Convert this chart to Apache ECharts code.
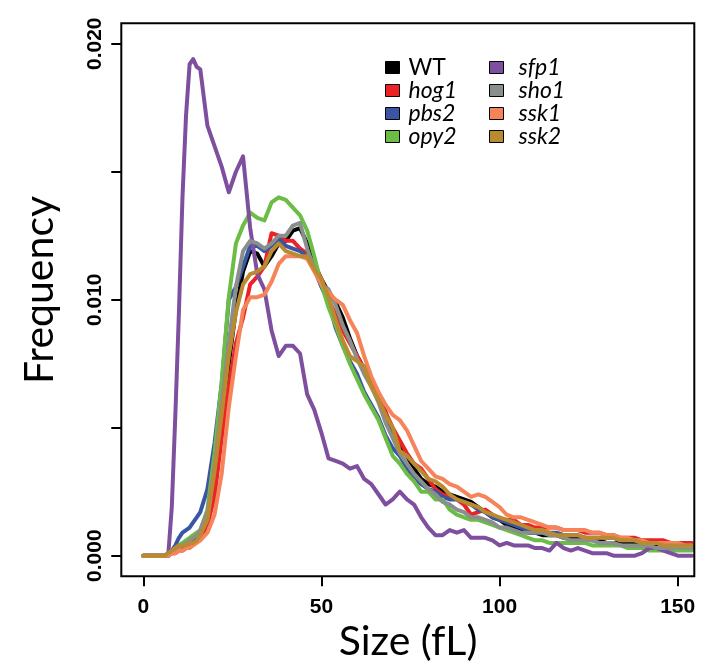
<!DOCTYPE html>
<html>
<head>
<meta charset="utf-8">
<script src="https://cdn.jsdelivr.net/npm/echarts@6/dist/echarts.min.js"></script>
<style>html,body{margin:0;padding:0;background:#fff}#c{width:704px;height:672px}</style>
</head>
<body>
<div id="c"></div>
<script>
// Size (fL) sample positions shared by all series
const sizes = [0,2,4,6,7,8,9,10,11,12,13,14,15,16,18,
  20,22,24,26,28,30,32,34,36,38,40,42,44,46,48,50,52,54,56,58,60,62,64,66,68,70,72,74,76,78,80,
  82,84,86,88,90,92,94,96,98,100,102,104,106,108,110,112,114,116,118,120,122,124,126,128,130,
  132,134,136,138,140,142,144,146,148,150,152,154];

const WT = [0,0,0,0,0,0.0001,0.0002,0.0003,0.0003,0.0004,0.0005,0.0006,0.0007,0.0009,0.0015,
  0.0030,0.0055,0.0075,0.0096,0.0111,0.0119,0.0118,0.0113,0.0117,0.0122,0.0123,0.0127,0.0128,0.0122,0.0114,0.0108,
  0.0103,0.0099,0.0093,0.0085,0.0078,0.0073,0.0068,0.0063,0.0056,0.0048,0.0043,0.0039,0.0034,0.0030,0.0028,
  0.0027,0.0025,0.0024,0.0023,0.0022,0.0021,0.0019,0.0017,0.0015,0.0014,0.0012,0.0011,0.0010,0.0009,0.0009,
  0.0008,0.0008,0.0008,0.0007,0.0007,0.0007,0.0007,0.0006,0.0006,0.0005,0.0005,0.0005,0.0005,0.0005,0.0004,
  0.0004,0.0004,0.0004,0.0004,0.0003,0.0003,0.0003];

const hog1 = [0,0,0,0,0,0.0001,0.0001,0.0002,0.0002,0.0003,0.0004,0.0005,0.0006,0.0007,0.0012,
  0.0023,0.0046,0.0066,0.0083,0.0093,0.0106,0.0109,0.0113,0.0126,0.0125,0.0123,0.0123,0.0120,0.0118,0.0114,0.0108,
  0.0100,0.0094,0.0088,0.0083,0.0078,0.0073,0.0068,0.0063,0.0056,0.0050,0.0045,0.0040,0.0036,0.0034,0.0030,
  0.0026,0.0024,0.0023,0.0022,0.0020,0.0016,0.0017,0.0018,0.0016,0.0014,0.0014,0.0014,0.0012,0.0012,0.0011,
  0.0011,0.0011,0.0011,0.0010,0.0010,0.0010,0.0009,0.0009,0.0009,0.0008,0.0008,0.0007,0.0007,0.0007,0.0006,
  0.0006,0.0006,0.0006,0.0005,0.0005,0.0005,0.0005];

const pbs2 = [0,0,0,0,0.0001,0.0002,0.0004,0.0007,0.0009,0.0010,0.0011,0.0013,0.0015,0.0017,0.0026,
  0.0044,0.0067,0.0100,0.0105,0.0113,0.0121,0.0121,0.0119,0.0121,0.0124,0.0121,0.0120,0.0119,0.0117,0.0112,0.0105,
  0.0099,0.0089,0.0082,0.0076,0.0071,0.0064,0.0059,0.0054,0.0047,0.0042,0.0039,0.0034,0.0030,0.0028,0.0026,
  0.0025,0.0023,0.0022,0.0022,0.0021,0.0020,0.0018,0.0017,0.0015,0.0014,0.0013,0.0012,0.0011,0.0010,0.0010,
  0.0009,0.0009,0.0009,0.0008,0.0008,0.0008,0.0007,0.0007,0.0007,0.0007,0.0007,0.0006,0.0006,0.0006,0.0005,
  0.0005,0.0005,0.0004,0.0004,0.0004,0.0004,0.0004];

const opy2 = [0,0,0,0,0,0.0001,0.0003,0.0004,0.0005,0.0006,0.0007,0.0008,0.0009,0.0010,0.0018,
  0.0040,0.0068,0.0101,0.0122,0.0129,0.0134,0.0132,0.0131,0.0138,0.0140,0.0139,0.0136,0.0133,0.0127,0.0117,0.0106,
  0.0097,0.0090,0.0082,0.0075,0.0069,0.0063,0.0058,0.0053,0.0046,0.0039,0.0036,0.0032,0.0029,0.0025,0.0025,
  0.0022,0.0022,0.0018,0.0016,0.0015,0.0014,0.0014,0.0013,0.0012,0.0011,0.0010,0.0009,0.0008,0.0007,0.0006,
  0.0006,0.0005,0.0005,0.0005,0.0005,0.0005,0.0005,0.0004,0.0004,0.0004,0.0004,0.0004,0.0003,0.0003,0.0003,
  0.0002,0.0002,0.0002,0.0002,0.0002,0.0002,0.0002];

const sfp1 = [0,0,0,0,0,0.0019,0.0055,0.0095,0.0140,0.0172,0.0192,0.0194,0.0191,0.0190,0.0168,
  0.0160,0.0152,0.0142,0.0150,0.0156,0.0128,0.0110,0.0104,0.0088,0.0078,0.0082,0.0082,0.0079,0.0063,0.0057,0.0048,
  0.0038,0.0037,0.0036,0.0034,0.0035,0.0030,0.0028,0.0024,0.0020,0.0022,0.0025,0.0022,0.0020,0.0015,0.0011,
  0.0008,0.0008,0.0010,0.0009,0.0010,0.0007,0.0007,0.0007,0.0006,0.0004,0.0005,0.0004,0.0004,0.0004,0.0003,
  0.0003,0.0002,0.0005,0.0003,0.0002,0.0003,0.0002,0.0001,0.0001,0.0001,0,0,0,0,0.0001,
  0.0003,0.0003,0.0002,0.0001,0,0,0];

const sho1 = [0,0,0,0,0,0.0001,0.0002,0.0003,0.0004,0.0005,0.0006,0.0007,0.0008,0.0010,0.0017,
  0.0035,0.0060,0.0083,0.0105,0.0119,0.0123,0.0122,0.0120,0.0122,0.0125,0.0125,0.0129,0.0130,0.0120,0.0112,0.0106,
  0.0104,0.0098,0.0090,0.0084,0.0077,0.0071,0.0066,0.0060,0.0052,0.0046,0.0040,0.0036,0.0032,0.0029,0.0026,
  0.0024,0.0021,0.0020,0.0018,0.0017,0.0015,0.0015,0.0014,0.0013,0.0011,0.0011,0.0010,0.0009,0.0009,0.0009,
  0.0009,0.0008,0.0008,0.0007,0.0006,0.0006,0.0006,0.0006,0.0005,0.0005,0.0005,0.0004,0.0004,0.0004,0.0004,
  0.0004,0.0003,0.0003,0.0003,0.0003,0.0003,0.0003];

const ssk1 = [0,0,0,0,0,0.0001,0.0001,0.0002,0.0002,0.0003,0.0003,0.0004,0.0005,0.0006,0.0009,
  0.0016,0.0032,0.0058,0.0078,0.0096,0.0101,0.0101,0.0102,0.0107,0.0114,0.0117,0.0117,0.0117,0.0116,0.0111,0.0106,
  0.0103,0.0100,0.0098,0.0092,0.0087,0.0078,0.0070,0.0064,0.0059,0.0055,0.0053,0.0049,0.0043,0.0037,0.0034,
  0.0031,0.0030,0.0028,0.0027,0.0025,0.0023,0.0024,0.0023,0.0021,0.0019,0.0016,0.0015,0.0015,0.0014,0.0013,
  0.0012,0.0011,0.0011,0.0010,0.0010,0.0010,0.0010,0.0009,0.0009,0.0008,0.0008,0.0007,0.0007,0.0006,0.0006,
  0.0005,0.0005,0.0005,0.0005,0.0005,0.0004,0.0004];

const ssk2 = [0,0,0,0,0.0001,0.0002,0.0003,0.0004,0.0004,0.0004,0.0005,0.0005,0.0006,0.0008,0.0014,
  0.0033,0.0055,0.0078,0.0095,0.0106,0.0110,0.0111,0.0113,0.0119,0.0122,0.0119,0.0118,0.0117,0.0117,0.0112,0.0108,
  0.0101,0.0092,0.0084,0.0078,0.0076,0.0074,0.0066,0.0061,0.0055,0.0050,0.0041,0.0039,0.0036,0.0033,0.0030,
  0.0029,0.0027,0.0024,0.0022,0.0021,0.0020,0.0019,0.0017,0.0016,0.0015,0.0014,0.0013,0.0012,0.0011,0.0010,
  0.0010,0.0009,0.0008,0.0008,0.0008,0.0008,0.0007,0.0007,0.0007,0.0007,0.0007,0.0006,0.0006,0.0006,0.0005,
  0.0005,0.0005,0.0004,0.0004,0.0004,0.0004,0.0004];

const seriesNames = ['WT','hog1','pbs2','opy2','sfp1','sho1','ssk1','ssk2'];
const seriesValues = [WT, hog1, pbs2, opy2, sfp1, sho1, ssk1, ssk2];
const seriesColors = ['#000000','#ec2227','#3a55a4','#6cbd45','#7f4f9f','#8a8e8c','#f5845a','#b98a2f'];

const xTicks = [0, 50, 100, 150];
const yTicks = [0, 0.005, 0.010, 0.015, 0.020];
const yTickLabels = [0, 0.010, 0.020];

const chart = echarts.init(document.getElementById('c'), null, {renderer: 'canvas'});

const series = seriesNames.map((n, i) => ({
  name: n,
  type: 'line',
  symbol: 'none',
  data: sizes.map((s, k) => [s, seriesValues[i][k]]),
  lineStyle: {color: seriesColors[i], width: 4, cap: 'round', join: 'round'},
  itemStyle: {color: seriesColors[i]},
  clip: true,
  z: 2 + i
}));

function legendFor(names, left, textPad) {
  return {
    left: left, top: 56, orient: 'vertical', padding: 0,
    itemWidth: 14, itemHeight: 12, itemGap: 0, icon: 'rect',
    itemStyle: {borderColor: '#000', borderWidth: 1},
    textStyle: {fontFamily: 'Lato', fontSize: 23, lineHeight: 20.6, color: '#000', padding: [0,0,0,textPad]},
    data: names.map(n => ({name: n, textStyle: {fontStyle: n === 'WT' ? 'normal' : 'italic'}}))
  };
}

chart.setOption({
  animation: false,
  backgroundColor: '#fff',
  grid: {left: 121.3, right: 9.7, top: 23.3, bottom: 95.7, show: true, borderColor: '#000', borderWidth: 2, backgroundColor: 'transparent', z: 10},
  legend: [legendFor(['WT','hog1','pbs2','opy2'], 385, 4), legendFor(['sfp1','sho1','ssk1','ssk2'], 489, 10)],
  xAxis: {
    type: 'value', min: -6.17, max: 154.66,
    axisLine: {show: false, onZero: false},
    splitLine: {show: false},
    axisTick: {show: true, customValues: xTicks, length: 10, lineStyle: {color: '#000', width: 2}},
    axisLabel: {customValues: xTicks, color: '#000', fontFamily: 'Liberation Sans', fontWeight: 'bold', fontSize: 21, margin: 20}
  },
  yAxis: {
    type: 'value', min: -0.000805, max: 0.0208,
    axisLine: {show: false, onZero: false},
    splitLine: {show: false},
    axisTick: {show: true, customValues: yTicks, length: 10, lineStyle: {color: '#000', width: 2}},
    axisLabel: {customValues: yTickLabels, rotate: 90, color: '#000', fontFamily: 'Liberation Sans', fontWeight: 'bold', fontSize: 21, margin: 16,
      formatter: v => v.toFixed(3)}
  },
  graphic: [
    {type: 'text', x: 40, y: 290, rotation: Math.PI / 2,
      style: {text: 'Frequency', fill: '#000', font: '41px Lato', textAlign: 'center', textVerticalAlign: 'middle'}},
    {type: 'text', x: 408, y: 642,
      style: {text: 'Size (fL)', fill: '#000', font: '41px Lato', textAlign: 'center', textVerticalAlign: 'middle'}}
  ],
  series: series
});
</script>
</body>
</html>
